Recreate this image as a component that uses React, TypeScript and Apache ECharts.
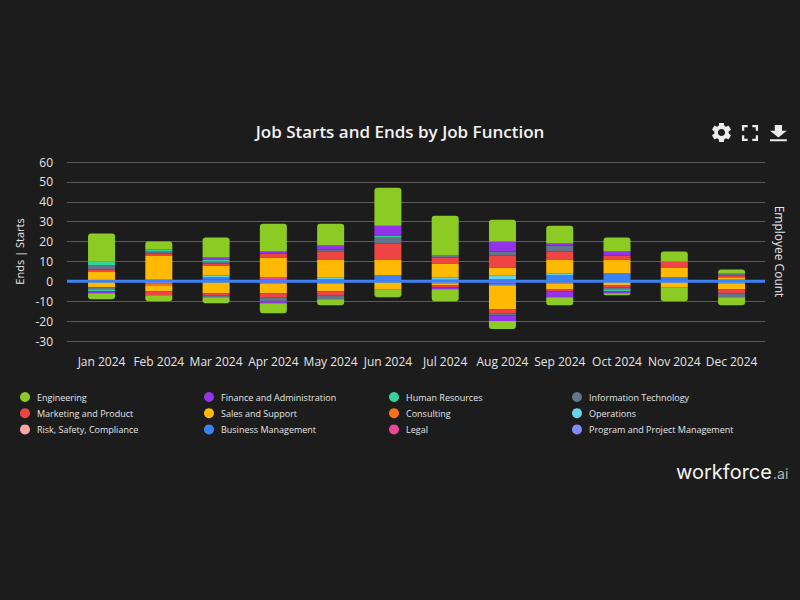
import React, { useEffect, useRef } from "react";
import * as echarts from "echarts";

const months = ["Jan 2024","Feb 2024","Mar 2024","Apr 2024","May 2024","Jun 2024","Jul 2024","Aug 2024","Sep 2024","Oct 2024","Nov 2024","Dec 2024"];
const functionNames = ["Engineering","Finance and Administration","Human Resources","Information Technology","Marketing and Product","Sales and Support","Consulting","Operations","Risk, Safety, Compliance","Business Management","Legal","Program and Project Management"];
const colors = ["#8ccb24","#9333ea","#34d399","#64748b","#ef4444","#ffb900","#f97316","#67d4e8","#fca5a5","#3b82f6","#ec4899","#818cf8"];

const startsEngineering = [14,4,10,14,11,19,20,11,9,7,5,2];
const startsFinance = [0,0,1,1,2,5,0,5,1,2,0,0];
const startsHR = [2,1,1,0,0,1,0,0,0,0,0,0];
const startsIT = [2,1,1,0,1,3,1,2,3,0,0,1];
const startsMarketing = [1,1,1,2,4,8,3,6,4,2,3,1];
const startsSales = [5,12,5,10,9,8,7,4,7,7,5,1];
const startsConsulting = [0,0,0,0,0,0,0,0,0,0,0,0];
const startsOperations = [0,0,1,0,1,0,1,2,1,0,0,1];
const startsRisk = [0,1,0,0,0,0,1,0,0,0,0,0];
const startsBusiness = [0,0,1,0,0,3,0,0,3,4,1,0];
const startsLegal = [0,0,1,1,1,0,0,1,0,0,0,0];
const startsProgram = [0,0,0,1,0,0,0,0,0,0,1,0];

const endsEngineering = [-3,-3,-3,-5,-3,-4,-6,-4,-4,-1,-7,-4];
const endsFinance = [-1,0,0,-1,0,0,-1,-3,-3,-1,0,0];
const endsHR = [-1,0,0,0,0,0,0,0,0,-1,0,0];
const endsIT = [-1,0,-1,-2,-2,0,0,-1,0,-1,0,-2];
const endsMarketing = [0,-2,-1,-2,-2,0,-1,-2,-1,-1,0,-2];
const endsSales = [-3,-3,-6,-5,-4,-4,-1,-12,-3,-2,-3,-3];
const endsConsulting = [0,-1,0,0,0,0,0,0,-1,0,0,0];
const endsOperations = [0,0,0,0,0,0,0,0,0,0,0,-1];
const endsRisk = [0,-1,0,0,0,0,-1,0,0,0,0,0];
const endsBusiness = [0,0,0,0,-1,0,0,-1,0,0,0,0];
const endsLegal = [0,0,0,-1,0,0,0,-1,0,0,0,0];
const endsProgram = [0,0,0,0,0,0,0,0,0,0,0,0];

const startsAll = [startsEngineering,startsFinance,startsHR,startsIT,startsMarketing,startsSales,startsConsulting,startsOperations,startsRisk,startsBusiness,startsLegal,startsProgram];
const endsAll = [endsEngineering,endsFinance,endsHR,endsIT,endsMarketing,endsSales,endsConsulting,endsOperations,endsRisk,endsBusiness,endsLegal,endsProgram];
const employeeCountLine = [[0,0],[1,0]];
const yTicks = { min: -30, max: 60, interval: 10 };

const gear = "M19.14 12.94c.04-.3.06-.61.06-.94 0-.32-.02-.64-.07-.94l2.03-1.58a.49.49 0 0 0 .12-.61l-1.92-3.32a.488.488 0 0 0-.59-.22l-2.39.96c-.5-.38-1.03-.7-1.62-.94l-.36-2.54a.484.484 0 0 0-.48-.41h-3.84c-.24 0-.43.17-.47.41l-.36 2.54c-.59.24-1.13.57-1.62.94l-2.39-.96c-.22-.08-.47 0-.59.22L2.74 8.87c-.12.21-.08.47.12.61l2.03 1.58c-.05.3-.09.63-.09.94s.02.64.07.94l-2.03 1.58a.49.49 0 0 0-.12.61l1.92 3.32c.12.22.37.29.59.22l2.39-.96c.5.38 1.03.7 1.62.94l.36 2.54c.05.24.24.41.48.41h3.84c.24 0 .44-.17.47-.41l.36-2.54c.59-.24 1.13-.56 1.62-.94l2.39.96c.22.08.47 0 .59-.22l1.92-3.32c.12-.22.07-.47-.12-.61l-2.01-1.58zM12 15.6c-1.98 0-3.6-1.62-3.6-3.6s1.62-3.6 3.6-3.6 3.6 1.62 3.6 3.6-1.62 3.6-3.6 3.6z";
const expand = "M7 14H5v5h5v-2H7v-3zm-2-4h2V7h3V5H5v5zm12 7h-3v2h5v-5h-2v3zM14 5v2h3v3h2V5h-5z";
const download = "M19 9h-4V3H9v6H5l7 7 7-7zM5 18v2h14v-2H5z";

const BG = "#1c1c1c";
const FONT = "'Open Sans', sans-serif";

export default function App() {
  const ref = useRef<HTMLDivElement>(null);
  useEffect(() => {
    document.body.style.margin = "0";
    document.body.style.background = BG;
    echarts.graphic.registerShape("gearIcon", echarts.graphic.extendPath(gear, {}));
    echarts.graphic.registerShape("expandIcon", echarts.graphic.extendPath(expand, {}));
    echarts.graphic.registerShape("downloadIcon", echarts.graphic.extendPath(download, {}));
    const chart = echarts.init(ref.current!, undefined, { renderer: "svg" });

    const makeBars = (rows: number[][], radius: number[]) =>
      rows
        .map((row, i) => ({
          name: functionNames[i],
          type: "bar" as const,
          stack: "jobs",
          xAxisIndex: 1,
          yAxisIndex: 2,
          barWidth: 27,
          data: row.map((v) => (v === 0 ? null : v)),
          itemStyle: { color: colors[i], borderRadius: i === 0 ? radius : 0 },
          z: 3,
        }))
        .reverse();

    const legendColumn = (left: number, idx: number[]) => ({
      orient: "vertical" as const,
      left,
      top: 386.5,
      icon: "circle",
      itemWidth: 10,
      itemHeight: 10,
      itemGap: 5.2,
      selectedMode: false,
      textStyle: { color: "#e5e5e5", fontSize: 9, fontFamily: FONT, padding: [0, 0, 0, 2], lineHeight: 11 },
      data: idx.map((i) => functionNames[i]),
    });

    chart.setOption({
      animation: false,
      backgroundColor: BG,
      title: {
        text: "Job Starts and Ends by Job Function",
        left: "center",
        top: 118,
        textStyle: { color: "#f2f2f2", fontSize: 17, fontWeight: 600, fontFamily: FONT },
      },
      legend: [
        legendColumn(15, [0, 4, 8]),
        legendColumn(199, [1, 5, 9]),
        legendColumn(384, [2, 6, 10]),
        legendColumn(567, [3, 7, 11]),
      ],
      grid: [
        { left: 67, width: 698, top: 162, height: 179 },
        { left: 72.9, width: 687.3, top: 162, height: 179 },
      ],
      xAxis: [
        { type: "value", gridIndex: 0, min: 0, max: 1, show: false },
        {
          type: "category",
          gridIndex: 1,
          data: months,
          axisLine: { show: false },
          axisTick: { show: false },
          axisLabel: { color: "#e5e5e5", fontSize: 12, fontFamily: FONT, margin: 14, interval: 0 },
        },
      ],
      yAxis: [
        {
          type: "value",
          gridIndex: 0,
          ...yTicks,
          name: "Ends | Starts",
          nameLocation: "middle",
          nameRotate: 90,
          nameGap: 39,
          nameTextStyle: { color: "#e5e5e5", fontSize: 11, fontFamily: FONT },
          axisLine: { show: false },
          axisTick: { show: false },
          axisLabel: { color: "#e5e5e5", fontSize: 12, fontFamily: FONT, margin: 14 },
          splitLine: { show: true, lineStyle: { color: "#5c5c5c", width: 1 } },
        },
        {
          type: "value",
          gridIndex: 0,
          position: "right",
          ...yTicks,
          name: "Employee Count",
          nameLocation: "middle",
          nameRotate: -90,
          nameGap: 8,
          nameTextStyle: { color: "#e5e5e5", fontSize: 12, fontFamily: FONT },
          axisLine: { show: false },
          axisTick: { show: false },
          axisLabel: { show: false },
          splitLine: { show: false },
        },
        { type: "value", gridIndex: 1, ...yTicks, show: false, splitLine: { show: false } },
      ],
      series: [
        ...makeBars(startsAll, [3, 3, 0, 0]),
        ...makeBars(endsAll, [0, 0, 3, 3]),
        {
          name: "Employee Count",
          type: "line",
          xAxisIndex: 0,
          yAxisIndex: 1,
          data: employeeCountLine,
          showSymbol: false,
          lineStyle: { color: "#3b82f6", width: 3 },
          z: 10,
        },
      ],
      graphic: [
        { type: "gearIcon", x: 709.5, y: 120.5, scaleX: 1, scaleY: 1, style: { fill: "#ececec" } },
        { type: "expandIcon", x: 736.2, y: 119.2, scaleX: 1.15, scaleY: 1.15, style: { fill: "#ececec" } },
        { type: "downloadIcon", x: 764, y: 122.2, scaleX: 1.2, scaleY: 0.95, style: { fill: "#ececec" } },
        {
          type: "text",
          x: 676,
          y: 461.5,
          style: { text: "workforce", fill: "#f5f5f5", fontSize: 20, fontFamily: "Inter, sans-serif", fontWeight: 400 },
        },
        {
          type: "text",
          x: 773,
          y: 466.5,
          style: { text: ".ai", fill: "#b5b5b5", fontSize: 14, fontFamily: "Inter, sans-serif" },
        },
      ],
    });
    return () => chart.dispose();
  }, []);
  return <div ref={ref} style={{ position: "absolute", left: 0, top: 0, width: 800, height: 600 }} />;
}
